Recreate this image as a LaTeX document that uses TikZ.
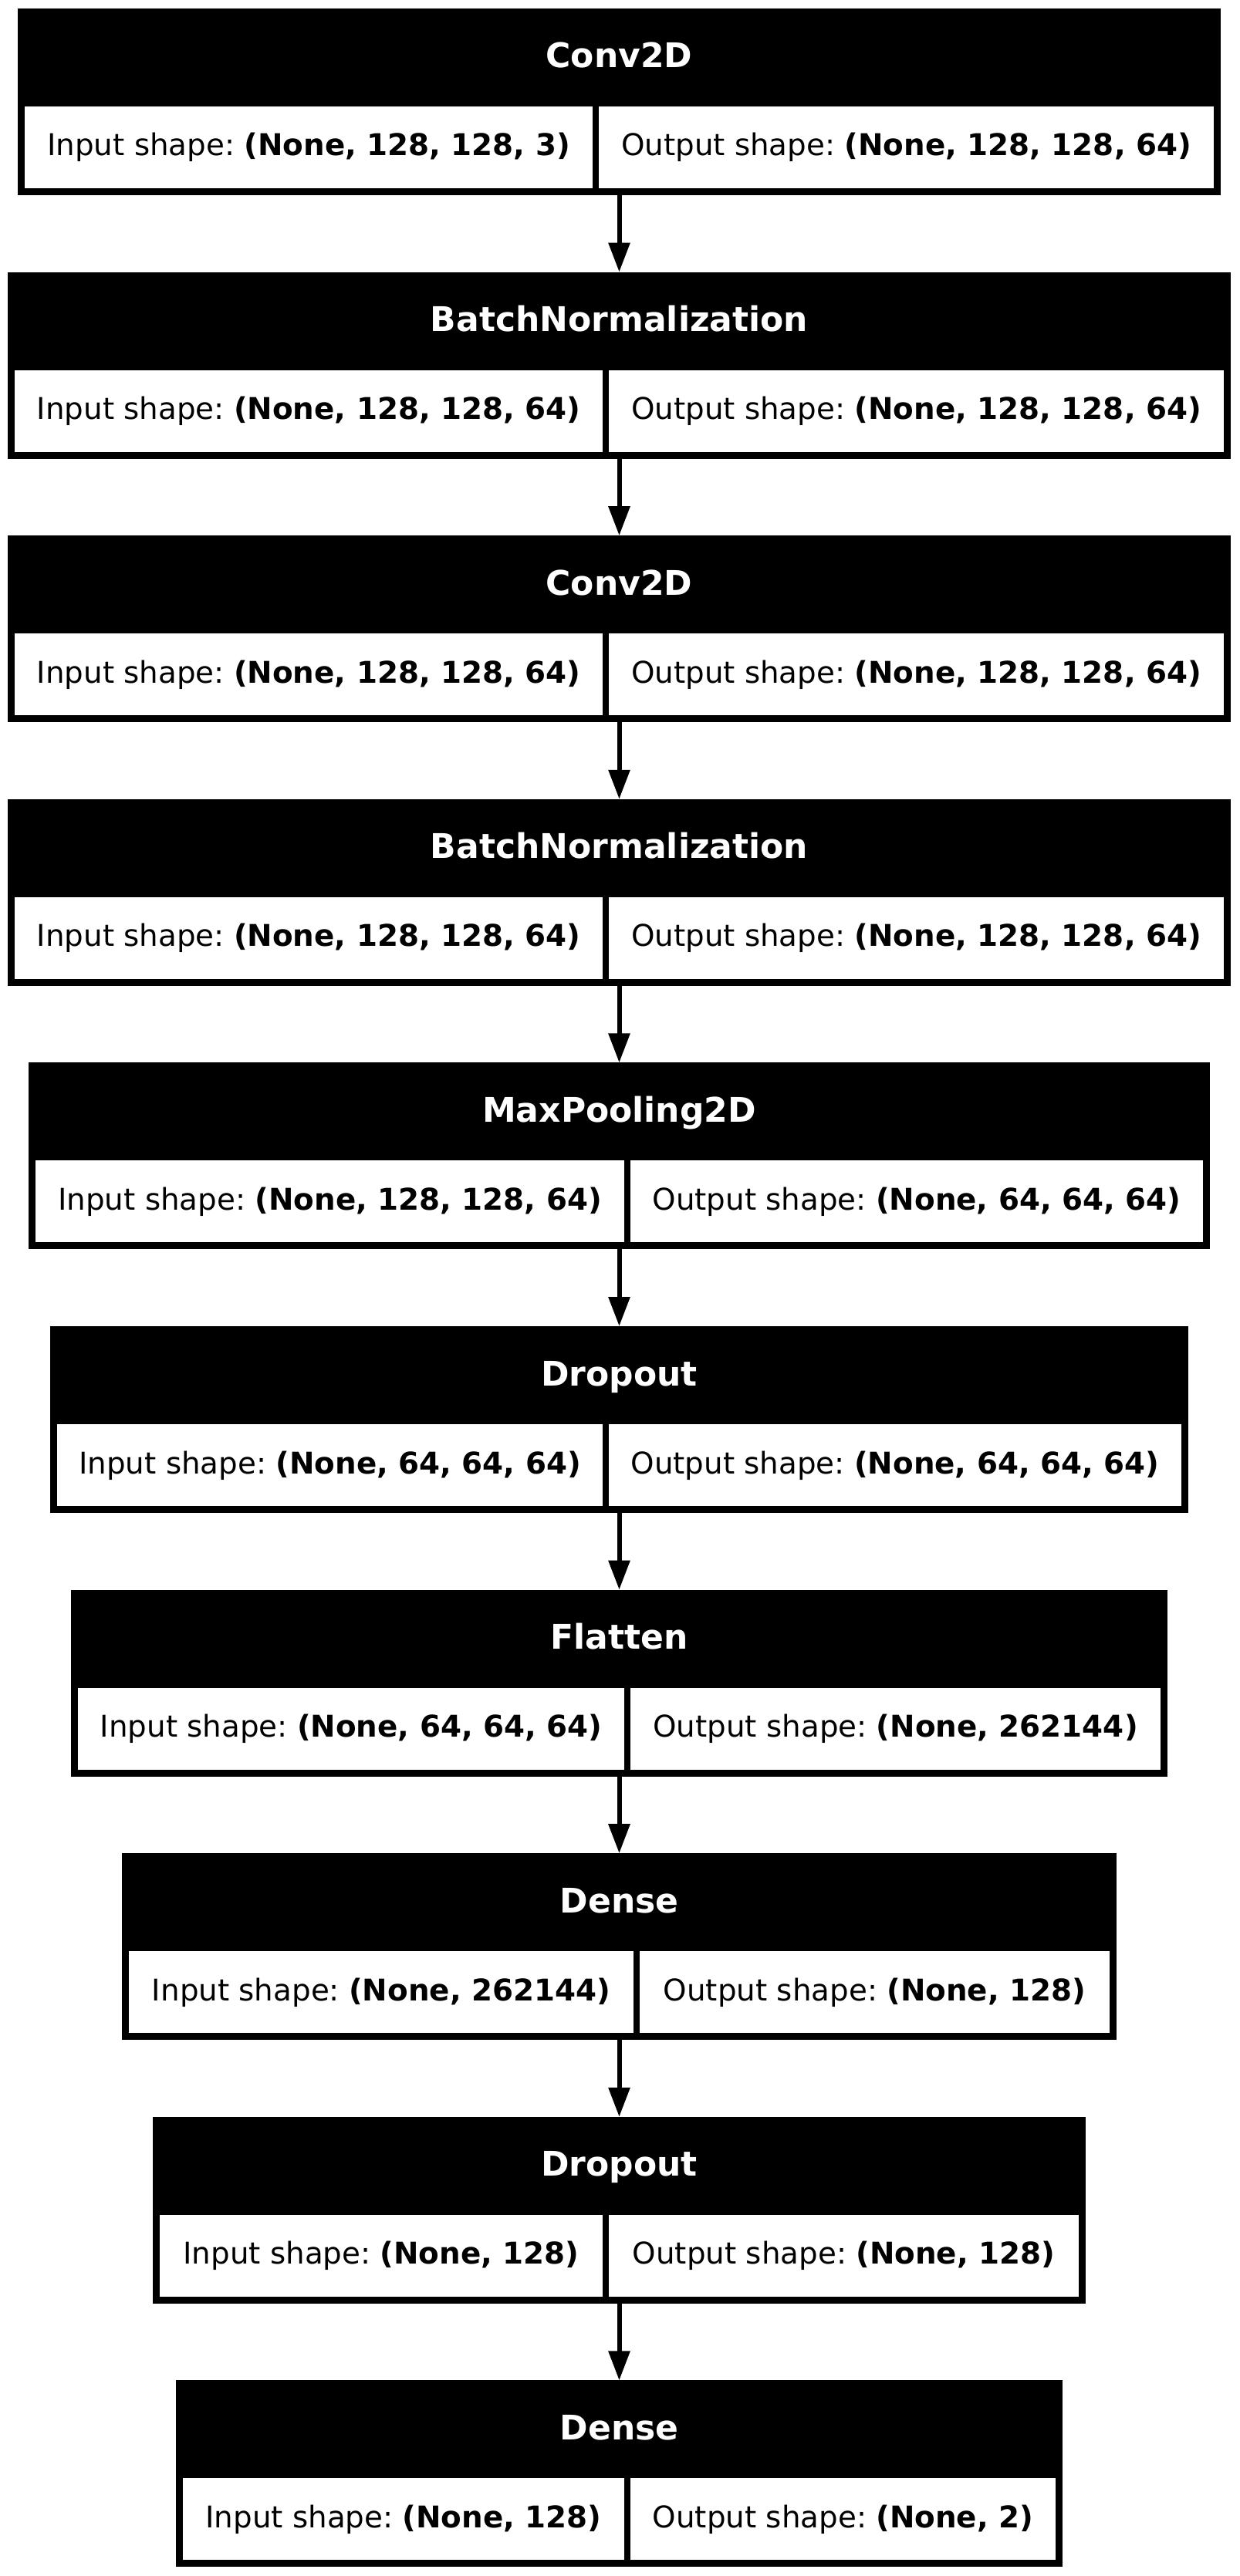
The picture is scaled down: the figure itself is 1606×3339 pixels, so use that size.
\documentclass[tikz,border=0pt]{standalone}
\usepackage{fontspec}
\setmainfont{DejaVu Sans}
\usetikzlibrary{arrows.meta}
\frenchspacing
\tikzset{
  layerbox/.style={fill=black, draw=none, inner sep=0pt, outer sep=0pt, rectangle},
  cellbox/.style={fill=white, draw=none, inner sep=0pt, outer sep=0pt, rectangle},
  titletext/.style={text=white, font=\fontsize{22}{26}\selectfont\bfseries, anchor=base, inner sep=0pt},
  celltext/.style={text=black, font=\fontsize{19.4}{24}\selectfont, anchor=base, inner sep=0pt},
  flow/.style={line width=3pt, -{Triangle[length=19pt,width=13.5pt]}}
}
\begin{document}
\begin{tikzpicture}[x=0.5pt,y=-0.5pt]
\useasboundingbox (0,0) rectangle (1606,3339);
\foreach \i/\L/\D/\Tname/\In/\Out in {
  1/23/772/Conv2D/{(None, 128, 128, 3)}/{(None, 128, 128, 64)},
  2/10/785/BatchNormalization/{(None, 128, 128, 64)}/{(None, 128, 128, 64)},
  3/10/785/Conv2D/{(None, 128, 128, 64)}/{(None, 128, 128, 64)},
  4/10/785/BatchNormalization/{(None, 128, 128, 64)}/{(None, 128, 128, 64)},
  5/37/813/MaxPooling2D/{(None, 128, 128, 64)}/{(None, 64, 64, 64)},
  6/65/785/Dropout/{(None, 64, 64, 64)}/{(None, 64, 64, 64)},
  7/92/813/Flatten/{(None, 64, 64, 64)}/{(None, 262144)},
  8/158/825/Dense/{(None, 262144)}/{(None, 128)},
  9/198/785/Dropout/{(None, 128)}/{(None, 128)},
  10/228/813/Dense/{(None, 128)}/{(None, 2)}}{
  \pgfmathsetmacro\ty{11+341.6*(\i-1)}
  \pgfmathsetmacro\R{1605-\L}
  \pgfmathsetmacro\W{(\R-\L)*0.5}
  \pgfmathsetmacro\LW{(\D-4-\L-9)*0.5}
  \pgfmathsetmacro\RW{(\R-9-\D-4)*0.5}
  \pgfmathsetmacro\LC{(\L+9+\D-4)/2}
  \pgfmathsetmacro\RC{(\D+4+\R-9)/2}
  \node[layerbox, minimum width=\W pt, minimum height=121pt] (b\i) at (802.5,\ty+121) {};
  \node[cellbox, minimum width=\LW pt, minimum height=53pt] (ci\i) at (\LC,\ty+180) {};
  \node[cellbox, minimum width=\RW pt, minimum height=53pt] (co\i) at (\RC,\ty+180) {};
  \node[titletext] (t\i) at (802.5,\ty+77) {\Tname};
  \node[celltext] (ti\i) at (\LC,\ty+191) {Input shape: \textbf{\In}};
  \node[celltext] (to\i) at (\RC,\ty+191) {Output shape: \textbf{\Out}};
}
\foreach \i in {1,...,9}{
  \pgfmathtruncatemacro\j{\i+1}
  \draw[flow] (b\i.south) -- (b\j.north);
}
\end{tikzpicture}
\end{document}
